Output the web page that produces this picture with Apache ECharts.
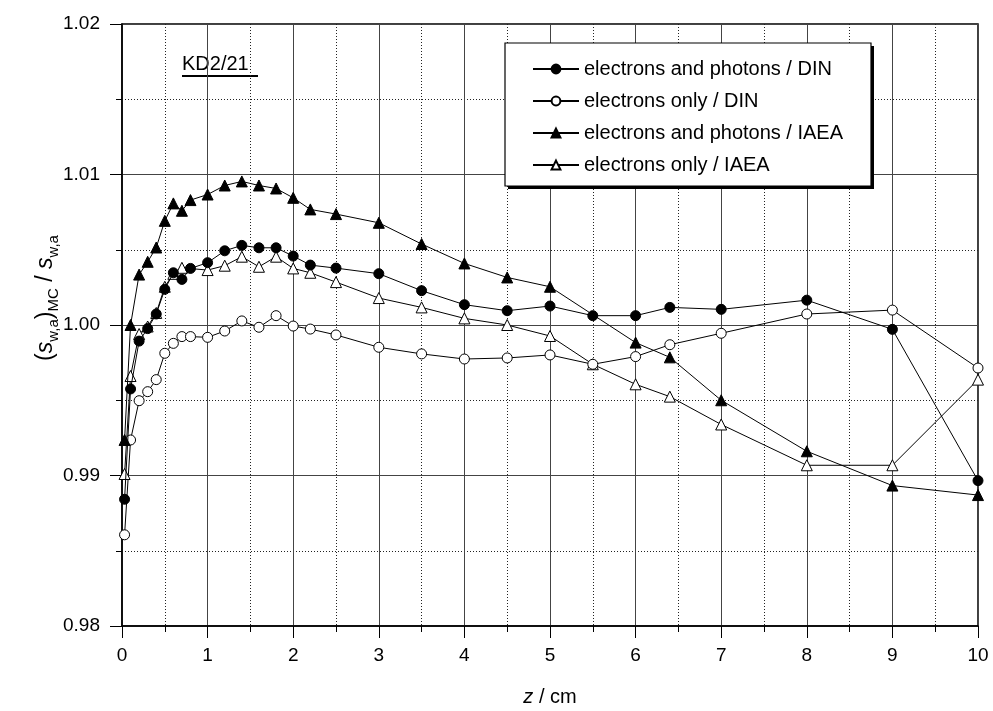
<!DOCTYPE html>
<html>
<head>
<meta charset="utf-8">
<script src="https://cdn.jsdelivr.net/npm/echarts@6/dist/echarts.min.js"></script>
<style>
  html, body { margin: 0; padding: 0; background: #fff; }
  #chart { width: 993px; height: 711px; }
</style>
</head>
<body>
<div id="chart"></div>
<script>
// Depth z in cm for each series
const zEPDin   = [0.03, 0.1, 0.2, 0.3, 0.4, 0.5, 0.6, 0.7, 0.8, 1.0, 1.2, 1.4, 1.6, 1.8, 2.0, 2.2, 2.5, 3, 3.5, 4, 4.5, 5, 5.5, 6, 6.4, 7, 8, 9, 10];
const zEDin    = [0.03, 0.1, 0.2, 0.3, 0.4, 0.5, 0.6, 0.7, 0.8, 1.0, 1.2, 1.4, 1.6, 1.8, 2.0, 2.2, 2.5, 3, 3.5, 4, 4.5, 5, 5.5, 6, 6.4, 7, 8, 9, 10];
const zEPIaea  = [0.03, 0.1, 0.2, 0.3, 0.4, 0.5, 0.6, 0.7, 0.8, 1.0, 1.2, 1.4, 1.6, 1.8, 2.0, 2.2, 2.5, 3, 3.5, 4, 4.5, 5, 6, 6.4, 7, 8, 9, 10];
const zEIaea   = [0.03, 0.1, 0.2, 0.3, 0.4, 0.5, 0.6, 0.7, 1.0, 1.2, 1.4, 1.6, 1.8, 2.0, 2.2, 2.5, 3, 3.5, 4, 4.5, 5, 5.5, 6, 6.4, 7, 8, 9, 10];

// Stopping-power ratio (s_w,a)_MC / s_w,a
const rEPDin  = [0.98842, 0.99575, 0.99893, 0.99976, 1.00073, 1.00237, 1.00347, 1.00303, 1.00376, 1.00414, 1.00493, 1.00529, 1.00513, 1.00513, 1.00458, 1.00398, 1.00378, 1.00341, 1.00228, 1.00135, 1.00095, 1.00126, 1.00062, 1.00062, 1.00117, 1.00104, 1.00165, 0.99971, 0.98966];
const rEDin   = [0.98606, 0.99236, 0.99497, 0.99557, 0.99637, 0.99812, 0.99878, 0.99923, 0.99923, 0.99918, 0.99960, 1.00027, 0.99985, 1.00062, 0.99993, 0.99973, 0.99934, 0.99852, 0.99808, 0.99774, 0.99781, 0.99801, 0.99739, 0.99790, 0.99869, 0.99945, 1.00073, 1.00099, 0.99714];
const rEPIaea = [0.99236, 1.00000, 1.00335, 1.00420, 1.00515, 1.00692, 1.00808, 1.00759, 1.00830, 1.00867, 1.00927, 1.00954, 1.00927, 1.00907, 1.00845, 1.00768, 1.00737, 1.00679, 1.00538, 1.00409, 1.00316, 1.00254, 0.99883, 0.99785, 0.99500, 0.99161, 0.98933, 0.98870];
const rEIaea  = [0.99010, 0.99661, 0.99940, 0.99990, 1.00080, 1.00254, 1.00340, 1.00380, 1.00365, 1.00394, 1.00454, 1.00387, 1.00454, 1.00376, 1.00347, 1.00285, 1.00179, 1.00117, 1.00044, 1.00000, 0.99927, 0.99739, 0.99606, 0.99524, 0.99339, 0.99068, 0.99068, 0.99637];

const seriesNames = [
  'electrons and photons / DIN',
  'electrons only / DIN',
  'electrons and photons / IAEA',
  'electrons only / IAEA'
];

const xTicks = { min: 0, max: 10, step: 1 };
const yTicks = { min: 0.98, max: 1.02, step: 0.01 };

const FONT = 'Liberation Sans, Arial, sans-serif';

function pairs(xs, ys) { return xs.map((x, i) => [x, ys[i]]); }

function makeSeries(name, xs, ys, symbol, filled, size) {
  return {
    name: name,
    type: 'line',
    data: pairs(xs, ys),
    symbol: symbol,
    symbolSize: size,
    showAllSymbol: true,
    lineStyle: { color: '#000', width: 1 },
    itemStyle: { color: filled ? '#000' : '#fff', borderColor: '#000', borderWidth: 1 },
    emphasis: { disabled: true },
    animation: false,
    z: filled ? 3 : 2
  };
}

// legend frame with a solid drop shadow
const legendBox = { x: 505, y: 43, w: 366, h: 143, shadow: 3 };

const chart = echarts.init(document.getElementById('chart'), null, { renderer: 'canvas' });

chart.setOption({
  backgroundColor: '#fff',
  animation: false,
  grid: { left: 122, right: 15, top: 24, bottom: 85, show: true, borderColor: '#000', borderWidth: 1.5, backgroundColor: 'transparent' },
  xAxis: {
    type: 'value',
    min: xTicks.min, max: xTicks.max, interval: xTicks.step,
    axisLine: { show: true, onZero: false, lineStyle: { color: '#000', width: 1.5 } },
    axisTick: { show: true, inside: false, length: 12, lineStyle: { color: '#000', width: 1 } },
    minorTick: { show: true, splitNumber: 2, length: 6, lineStyle: { color: '#000', width: 1 } },
    splitLine: { show: true, lineStyle: { color: '#444', width: 1 } },
    minorSplitLine: { show: true, lineStyle: { color: '#222', width: 1, type: [1, 2] } },
    axisLabel: { color: '#000', fontSize: 19, fontFamily: FONT, margin: 20 }
  },
  yAxis: {
    type: 'value',
    min: yTicks.min, max: yTicks.max, interval: yTicks.step,
    axisLine: { show: true, onZero: false, lineStyle: { color: '#000', width: 1.5 } },
    axisTick: { show: true, inside: false, length: 12, lineStyle: { color: '#000', width: 1 } },
    minorTick: { show: true, splitNumber: 2, length: 6, lineStyle: { color: '#000', width: 1 } },
    splitLine: { show: true, lineStyle: { color: '#444', width: 1 } },
    minorSplitLine: { show: true, lineStyle: { color: '#222', width: 1, type: [1, 2] } },
    axisLabel: { color: '#000', fontSize: 19, fontFamily: FONT, margin: 22, formatter: v => v.toFixed(2) }
  },
  legend: {
    left: legendBox.x, top: legendBox.y,
    orient: 'vertical',
    data: seriesNames,
    itemWidth: 46, itemHeight: 11, itemGap: 12,
    padding: [16, 28, 11, 27],
    selectedMode: false,
    z: 10,
    textStyle: { color: '#000', fontSize: 20, fontFamily: FONT, lineHeight: 20 }
  },
  series: [
    makeSeries(seriesNames[3], zEIaea, rEIaea, 'triangle', false, 11),
    makeSeries(seriesNames[1], zEDin, rEDin, 'circle', false, 10),
    makeSeries(seriesNames[0], zEPDin, rEPDin, 'circle', true, 10),
    makeSeries(seriesNames[2], zEPIaea, rEPIaea, 'triangle', true, 11)
  ],
  graphic: [
    {
      type: 'rect', z: 5,
      shape: { x: legendBox.x + legendBox.shadow, y: legendBox.y + legendBox.shadow, width: legendBox.w, height: legendBox.h },
      style: { fill: '#000' }
    },
    {
      type: 'rect', z: 6,
      shape: { x: legendBox.x, y: legendBox.y, width: legendBox.w, height: legendBox.h },
      style: { fill: '#fff', stroke: '#000', lineWidth: 1.2 }
    },
    {
      type: 'text', left: 182, top: 54,
      style: { text: 'KD2/21', fill: '#000', font: '20px ' + FONT }
    },
    {
      type: 'line', shape: { x1: 182, y1: 76, x2: 258, y2: 76 },
      style: { stroke: '#000', lineWidth: 2 }
    },
    {
      type: 'text', x: 46, y: 298, rotation: Math.PI / 2,
      style: {
        text: '{p|(}{s|s}{sub|w,a}{p|)}{sub|MC}{p| / }{s|s}{sub|w,a}',
        align: 'center', verticalAlign: 'middle', fill: '#000',
        rich: {
          p: { fontSize: 23, fontFamily: FONT, fill: '#000' },
          s: { fontSize: 23, fontFamily: FONT, fontStyle: 'italic', fill: '#000' },
          sub: { fontSize: 15, fontFamily: FONT, fill: '#000', padding: [16, 0, 0, 0] }
        }
      }
    },
    {
      type: 'text', x: 550, y: 697,
      style: {
        text: '{i|z}{n| / cm}',
        align: 'center', verticalAlign: 'middle', fill: '#000',
        rich: {
          i: { fontSize: 20, fontFamily: FONT, fontStyle: 'italic', fill: '#000' },
          n: { fontSize: 20, fontFamily: FONT, fill: '#000' }
        }
      }
    }
  ]
});
</script>
</body>
</html>
